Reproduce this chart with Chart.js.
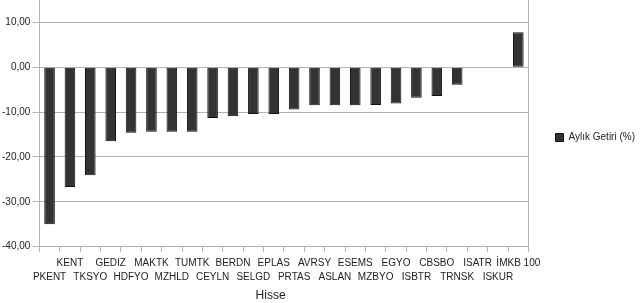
<!DOCTYPE html>
<html>
<head>
<meta charset="utf-8">
<script src="https://cdn.jsdelivr.net/npm/chart.js@4/dist/chart.umd.min.js"></script>
<style>
html,body{margin:0;padding:0;background:#fff;}
#wrap{width:640px;height:303px;position:relative;}
</style>
</head>
<body>
<div id="wrap"><canvas id="c" width="640" height="303"></canvas></div>
<script>
const categories = ['PKENT','KENT','TKSYO','GEDIZ','HDFYO','MAKTK','MZHLD','TUMTK','CEYLN','BERDN','SELGD','EPLAS','PRTAS','AVRSY','ASLAN','ESEMS','MZBYO','EGYO','ISBTR','CBSBO','TRNSK','ISATR','ISKUR','İMKB 100'];
const returns = [-35.0,-26.7,-24.1,-16.5,-14.6,-14.4,-14.4,-14.4,-11.3,-10.9,-10.4,-10.4,-9.4,-8.5,-8.5,-8.5,-8.4,-8.1,-6.8,-6.4,-3.9,0,0,7.8];
const seriesName = 'Aylık Getiri (%)';
const axisTitle = 'Hisse';
const yMin = -40, yMax = 15, yStep = 10;

const gridGray = '#b3b3b3';

const legendShift = {
  id: 'legendShift',
  afterLayout(chart) {
    if (chart.legend) {
      chart.legend.bottom -= 26;
      chart.legend.left += 5;
      chart.legend.right += 5;
    }
  }
};

new Chart(document.getElementById('c'), {
  type: 'bar',
  data: {
    labels: categories,
    datasets: [{
      label: seriesName,
      data: returns,
      backgroundColor: '#333333',
      borderColor: '#111111',
      borderWidth: 1,
      borderSkipped: false,
      barPercentage: 0.52,
      categoryPercentage: 1.0
    }]
  },
  plugins: [legendShift],
  options: {
    responsive: false,
    animation: false,
    devicePixelRatio: 1,
    layout: { padding: { top: -2, right: 0, left: 0, bottom: 0 } },
    plugins: {
      tooltip: { enabled: false },
      legend: {
        position: 'right',
        align: 'center',
        labels: {
          boxWidth: 8, boxHeight: 8, padding: 6,
          color: '#222',
          font: { family: 'Liberation Sans', size: 10 }
        }
      }
    },
    scales: {
      x: {
        offset: true,
        grid: { display: true, drawOnChartArea: false, offset: true, color: gridGray, tickLength: 5 },
        border: { color: gridGray },
        ticks: {
          autoSkip: false, maxRotation: 0, minRotation: 0, padding: 4.5,
          color: '#222',
          font: { family: 'Liberation Sans', size: 10, lineHeight: 1.4 },
          callback: function(v, i) {
            const t = categories[i];
            return i % 2 === 0 ? ['', t] : [t, ''];
          }
        },
        title: {
          display: true, text: axisTitle + '        ',
          color: '#222',
          font: { family: 'Liberation Sans', size: 12 },
          padding: { top: 0, bottom: 0 }
        }
      },
      y: {
        min: yMin, max: yMax,
        afterFit: function(scale) { scale.paddingTop = 0; },
        ticks: {
          stepSize: yStep, padding: 2, color: '#222',
          font: { family: 'Liberation Sans', size: 10 },
          callback: function(v) {
            if (v > 10) return '';
            return v.toFixed(2).replace('.', ',');
          }
        },
        grid: {
          color: function(ctx) { return ctx.tick && ctx.tick.value > 10 ? 'rgba(0,0,0,0)' : gridGray; },
          tickLength: 7
        },
        border: { color: gridGray }
      },
      y2: {
        position: 'right',
        min: yMin, max: yMax,
        afterFit: function(scale) { scale.width = 16; },
        ticks: { display: false },
        grid: { display: false, drawOnChartArea: false },
        border: { display: true, color: gridGray }
      }
    }
  }
});
</script>
</body>
</html>
